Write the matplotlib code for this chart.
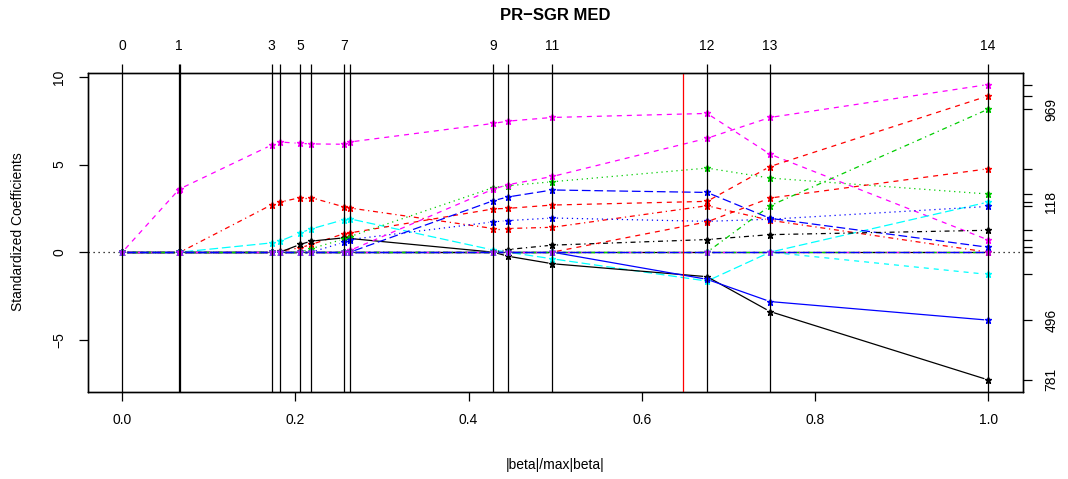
import numpy as np
import matplotlib.pyplot as plt

plt.rcParams['font.family'] = ['Liberation Sans', 'DejaVu Sans']

# |beta|/max|beta| at each LARS step (steps 0..14)
s = [0.0, 0.0651, 0.0667, 0.1726, 0.1822, 0.2053, 0.2183, 0.2564, 0.2630,
     0.4286, 0.4452, 0.4967, 0.6754, 0.7482, 1.0]
step_labels = ['0', '1', '', '3', '', '5', '', '7', '', '9', '', '11', '12', '13', '14']
cv_choice = 0.648

# standardized coefficient paths
m1 = [0, 3.56, 3.62, 6.12, 6.29, 6.21, 6.18, 6.16, 6.29, 7.35, 7.48, 7.69, 7.92, 5.59, 0.70]
r1 = [0, 0, 0, 2.71, 2.86, 3.11, 3.11, 2.58, 2.52, 1.35, 1.35, 1.42, 2.65, 1.82, 0.0]
c1 = [0, 0, 0, 0.53, 0.63, 1.10, 1.33, 1.86, 1.90, 0.12, 0, -0.38, -1.65, 0, 2.86]
r2 = [0, 0, 0, 0, 0.06, 0.25, 0.44, 1.06, 1.10, 2.47, 2.50, 2.69, 2.90, 4.89, 8.92]
k1 = [0, 0, 0, 0, 0, 0.44, 0.63, 0.82, 0.78, 0, -0.23, -0.66, -1.40, -3.39, -7.29]
g1 = [0, 0, 0, 0, 0, 0, 0.20, 0.76, 0.89, 3.69, 3.79, 4.02, 4.80, 4.23, 3.32]
b1 = [0, 0, 0, 0, 0, 0, 0, 0.57, 0.72, 1.73, 1.80, 1.95, 1.76, 1.88, 2.61]
m2 = [0, 0, 0, 0, 0, 0, 0, 0, 0.10, 3.60, 3.85, 4.32, 6.50, 7.69, 9.57]
b2 = [0, 0, 0, 0, 0, 0, 0, 0, 0, 2.94, 3.15, 3.55, 3.41, 1.93, 0.28]
k2 = [0, 0, 0, 0, 0, 0, 0, 0, 0, 0, 0.15, 0.40, 0.72, 1.00, 1.25]
r3 = [0, 0, 0, 0, 0, 0, 0, 0, 0, 0, 0, 0, 1.73, 3.09, 4.76]
b3 = [0, 0, 0, 0, 0, 0, 0, 0, 0, 0, 0, 0, -1.55, -2.82, -3.88]
g2 = [0, 0, 0, 0, 0, 0, 0, 0, 0, 0, 0, 0, 0, 2.65, 8.16]
c2 = [0, 0, 0, 0, 0, 0, 0, 0, 0, 0, 0, 0, 0, 0, -1.27]
zero = [0] * 15  # the many variables that never enter

# variable names shown on the right axis (others overlap and are dropped)
names = ['', '4', '118', '', '781', '', '', '', '', '', '', '496', '969', '']

R_COL = {'k': '#000000', 'r': '#FF0000', 'g': '#00CD00', 'b': '#0000FF',
         'c': '#00FFFF', 'm': '#FF00FF'}
LTY = {'solid': '-', 'dashed': (0, (4, 4)), 'dotted': (0, (1, 3)),
       'dotdash': (0, (1, 3, 4, 3)), 'longdash': (0, (7, 3))}

paths = [(m1, 'm', 'dashed'), (r1, 'r', 'dotdash'), (c1, 'c', 'longdash'),
         (r2, 'r', 'dashed'), (k1, 'k', 'solid'), (g1, 'g', 'dotted'),
         (b1, 'b', 'dotted'), (m2, 'm', 'dashed'), (b2, 'b', 'longdash'),
         (k2, 'k', 'dotdash'), (r3, 'r', 'dashed'), (b3, 'b', 'solid'),
         (g2, 'g', 'dotdash'), (c2, 'c', 'dashed')]
zero_styles = [('k', 'solid'), ('m', 'dashed'), ('g', 'dotdash'), ('b', 'longdash')]

fig = plt.figure(figsize=(10.68, 4.79), dpi=100)
ax = fig.add_axes([0.0821, 0.1823, 0.8755, 0.6659])

allv = [v for p in paths for v in p[0]]
rng = max(allv) - min(allv)
ax.set_xlim(-0.04, 1.04)
ax.set_ylim(min(allv) - 0.04 * rng, max(allv) + 0.04 * rng)

lw = 0.9


def plot_b(x, y, gap=4.5, **kw):
    # like R type="b": segments stop short of each point
    tr = ax.transData
    pts = tr.transform(np.column_stack([x, y]))
    for p, q in zip(pts[:-1], pts[1:]):
        d = q - p
        L = np.hypot(*d)
        if L <= 2 * gap:
            continue
        u = d / L
        a, b = tr.inverted().transform([p + u * gap, q - u * gap])
        ax.plot([a[0], b[0]], [a[1], b[1]], **kw)


for vals, col, lty in paths:
    plot_b(s, vals, color=R_COL[col], linestyle=LTY[lty], lw=lw, zorder=3)
    ax.plot(s, vals, linestyle='none', color=R_COL[col], marker='*', ms=5, zorder=3)
for col, lty in zero_styles:
    plot_b(s, zero, color=R_COL[col], linestyle=LTY[lty], lw=lw, zorder=3)
for col in ('b', 'm'):
    ax.plot(s, zero, linestyle='none', color=R_COL[col], marker='*', ms=5,
            alpha=0.55, zorder=3)

ax.axhline(0, color='black', linestyle=(0, (1, 3)), lw=lw, zorder=2)
for x in s:
    ax.axvline(x, color='black', lw=lw, zorder=4)
ax.axvline(cv_choice, color='red', lw=lw, zorder=4)

tick_kw = dict(direction='out', length=6.5, width=lw, labelsize=10, color='black')
ax.set_xticks([0, 0.2, 0.4, 0.6, 0.8, 1.0])
ax.set_xticklabels(['0.0', '0.2', '0.4', '0.6', '0.8', '1.0'])
ax.set_yticks([-5, 0, 5, 10])
ax.set_yticklabels(['\u22125', '0', '5', '10'], rotation=90, va='center')
ax.tick_params(axis='x', pad=9, **tick_kw)
ax.tick_params(axis='y', pad=9, **tick_kw)

axt = ax.twiny()
axt.set_xlim(ax.get_xlim())
axt.set_xticks(s)
axt.set_xticklabels(step_labels)
axt.tick_params(axis='x', pad=8, **tick_kw)

axr = ax.twinx()
axr.set_ylim(ax.get_ylim())
finals = [p[0][-1] for p in paths] + [zero[-1]]
axr.set_yticks(finals)
axr.set_yticklabels(names + [''], rotation=90, va='center')
axr.tick_params(axis='y', pad=9, **tick_kw)

for a in (ax, axt, axr):
    for sp in a.spines.values():
        sp.set_linewidth(lw)
        sp.set_color('black')

cx = 0.0821 + 0.8755 / 2
fig.text(cx, 1 - 16 / 479, 'PR\u2212SGR MED', ha='center', va='center',
         fontsize=12, fontweight='bold')
fig.text(cx, 1 - 465 / 479, '|beta|/max|beta|', ha='center', va='center', fontsize=10)
fig.text(18 / 1068, 1 - 232 / 479, 'Standardized Coefficients', ha='center',
         va='center', rotation=90, fontsize=10)

fig.savefig('out.png', dpi=100)
